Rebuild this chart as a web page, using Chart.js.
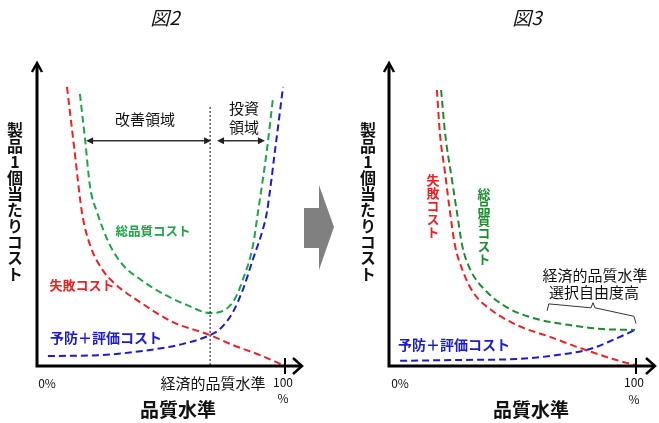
<!DOCTYPE html>
<html lang="ja">
<head>
<meta charset="UTF-8">
<title>品質コスト 図2・図3</title>
<script src="https://cdn.jsdelivr.net/npm/chart.js"></script>
<style>
    body {
        margin: 0;
        background: #fff;
        font-family: "Noto Sans CJK JP", sans-serif;
    }

    #stage {
        position: relative;
        width: 659px;
        height: 423px;
        overflow: hidden;
    }

    canvas {
        position: absolute;
        top: 0;
    }

    .lbl {
        position: absolute;
        transform: translate(-50%, -50%);
        line-height: 1;
        white-space: nowrap;
    }

    .vert {
        writing-mode: vertical-rl;
        text-orientation: upright;
    }
</style>
</head>
<body>
<div id="stage">
    <canvas id="fig2" width="330" height="423" style="left:0"></canvas>
    <canvas id="fig3" width="329" height="423" style="left:330px"></canvas>
    <svg width="659" height="423" style="position:absolute;left:0;top:0">
        <polygon points="304,208 319,208 319,185 334,227 319,270 319,248 304,248" fill="#808080" />
    </svg>
</div>

<script>
    // 図2 のカーブ（x: 品質水準 %, y: コスト相対値）
    const fig2Failure = [[12.1, 92.1], [15.1, 71.3], [18.1, 50.8], [21.4, 39.9], [26.2, 32.0], [31.5, 27.1],
        [41.5, 21.1], [54.8, 14.5], [69.8, 10.2], [79.0, 6.9], [89.9, 3.6], [99.2, 0.3]];
    const fig2Prevention = [[4.4, 3.3], [25.4, 3.6], [45.6, 5.3], [58.9, 7.3], [69.8, 10.2], [73.8, 12.2],
        [79.0, 17.8], [83.1, 25.4], [87.1, 35.3], [91.1, 45.2], [92.7, 50.8], [96.0, 71.3], [99.2, 92.1]];
    const fig2Total = [[17.3, 89.8], [19.4, 74.6], [21.4, 59.1], [24.2, 50.8], [29.4, 39.9], [34.7, 33.3],
        [41.5, 28.7], [49.6, 24.4], [60.5, 20.1], [69.8, 17.5], [79.0, 21.1], [83.1, 28.7], [87.1, 39.9],
        [89.1, 50.8], [92.7, 71.3], [95.2, 88.8]];

    // 図3 のカーブ
    const fig3Failure = [[19.4, 91.1], [20.6, 76.9], [22.7, 63.7], [24.7, 50.8], [26.7, 39.9], [29.6, 32.0],
        [34.0, 24.4], [40.9, 18.8], [51.8, 13.5], [65.2, 9.6], [78.5, 5.6], [90.7, 2.3], [99.6, 0.3]];
    const fig3Total = [[21.1, 91.1], [22.7, 76.9], [25.5, 61.4], [27.5, 50.8], [29.6, 39.9], [32.8, 32.0],
        [39.7, 24.4], [49.0, 18.8], [59.9, 15.5], [73.3, 13.5], [86.6, 12.2], [99.6, 11.9]];
    const fig3Prevention = [[4.5, 1.7], [30.0, 2.0], [51.8, 2.3], [68.0, 3.6], [81.4, 5.6], [90.7, 8.6], [99.6, 11.9]];

    // 経済的品質水準（図2）と領域の範囲
    const economicLevel = 69.8;
    const improveRange = [19.8, 70.2];
    const investRange = [72.6, 91.9];

    const RED = '#ee2124';
    const GREEN = '#1fa447';
    const GREEN_DARK = '#1d8c2e';
    const BLUE = '#1b1bd0';

    // 軸・矢印・注記を描くプラグイン
    const decor = {
        id: 'decor',
        afterDatasetsDraw(chart, args, opts) {
            const { ctx, scales: { x, y } } = chart;
            const x0 = x.getPixelForValue(0), y0 = y.getPixelForValue(0);
            const xEnd = x.right, yEnd = y.top;
            ctx.save();
            ctx.strokeStyle = '#000';
            ctx.lineWidth = 3;
            ctx.beginPath();
            ctx.moveTo(x0, y0 + 1.5);
            ctx.lineTo(x0, yEnd + 1);
            ctx.moveTo(x0 - 1.5, y0);
            ctx.lineTo(xEnd - 1, y0);
            ctx.stroke();
            // 矢印
            ctx.lineWidth = 2.5;
            ctx.beginPath();
            ctx.moveTo(x0 - 5, yEnd + 9);
            ctx.lineTo(x0, yEnd);
            ctx.lineTo(x0 + 5, yEnd + 9);
            ctx.moveTo(xEnd - 9, y0 - 8);
            ctx.lineTo(xEnd, y0);
            ctx.lineTo(xEnd - 9, y0 + 8);
            ctx.stroke();
            // 100% の目盛
            const x100 = x.getPixelForValue(100);
            ctx.lineWidth = 2;
            ctx.beginPath();
            ctx.moveTo(x100, y0 - 8);
            ctx.lineTo(x100, y0 + 8);
            ctx.stroke();
            if (opts.extra) opts.extra(ctx, x, y);
            ctx.restore();
        }
    };

    function doubleArrow(ctx, xa, xb, py) {
        ctx.strokeStyle = '#333';
        ctx.fillStyle = '#222';
        ctx.lineWidth = 1.5;
        ctx.beginPath();
        ctx.moveTo(xa + 4, py);
        ctx.lineTo(xb - 4, py);
        ctx.stroke();
        [[xa, 1], [xb, -1]].forEach(([px, d]) => {
            ctx.beginPath();
            ctx.moveTo(px, py);
            ctx.lineTo(px + 7 * d, py - 3.5);
            ctx.lineTo(px + 7 * d, py + 3.5);
            ctx.closePath();
            ctx.fill();
        });
    }

    function curve(data, color) {
        return {
            data: data,
            borderColor: color,
            borderWidth: 2,
            borderDash: [7, 4],
            pointRadius: 0,
            fill: false,
            tension: 0.4,
            cubicInterpolationMode: 'monotone'
        };
    }

    function makeChart(id, datasets, xMax, padding, extra) {
        return new Chart(document.getElementById(id), {
            type: 'line',
            data: { datasets: datasets },
            options: {
                responsive: false,
                animation: false,
                layout: { padding: padding },
                scales: {
                    x: { type: 'linear', min: 0, max: xMax, display: false },
                    y: { type: 'linear', min: 0, max: 100, display: false }
                },
                plugins: {
                    legend: { display: false },
                    tooltip: { enabled: false },
                    decor: { extra: extra }
                }
            },
            plugins: [decor]
        });
    }

    makeChart('fig2', [curve(fig2Failure, RED), curve(fig2Prevention, BLUE), curve(fig2Total, GREEN)],
        106.85, { left: 37, right: 28, top: 63, bottom: 57 },
        function (ctx, x, y) {
            // 経済的品質水準の点線
            const px = x.getPixelForValue(economicLevel);
            ctx.strokeStyle = '#000';
            ctx.lineWidth = 1;
            ctx.setLineDash([2, 2]);
            ctx.beginPath();
            ctx.moveTo(px, y.getPixelForValue(85.5));
            ctx.lineTo(px, y.getPixelForValue(0));
            ctx.stroke();
            ctx.setLineDash([]);
            const py = y.getPixelForValue(74.3);
            doubleArrow(ctx, x.getPixelForValue(improveRange[0]), x.getPixelForValue(improveRange[1]), py);
            doubleArrow(ctx, x.getPixelForValue(investRange[0]), x.getPixelForValue(investRange[1]), py);
        });

    makeChart('fig3', [curve(fig3Failure, RED), curve(fig3Prevention, BLUE), curve(fig3Total, GREEN_DARK)],
        107.7, { left: 59, right: 4, top: 63, bottom: 57 },
        function (ctx, x, y) {
            // 選択自由度の中括弧
            const brace = [[64.0, 18.2], [64.7, 20.5], [81.8, 19.2], [82.6, 20.9], [83.4, 19.2], [99.2, 16.4], [100, 14.0]];
            ctx.strokeStyle = '#333';
            ctx.lineWidth = 1;
            ctx.beginPath();
            brace.forEach(([bx, by], i) => {
                const px = x.getPixelForValue(bx), py = y.getPixelForValue(by);
                if (i === 0) ctx.moveTo(px, py); else ctx.lineTo(px, py);
            });
            ctx.stroke();
        });

    // テキスト
    const labels = [
        { t: '図2', x: 165, y: 16, s: 19, it: true },
        { t: '図3', x: 527, y: 16, s: 19, it: true },
        { t: '製品1個当たりコスト', x: 15, y: 202, s: 16, b: true, v: true },
        { t: '製品1個当たりコスト', x: 368, y: 202, s: 16, b: true, v: true },
        { t: '品質水準', x: 178, y: 408, s: 19, b: true },
        { t: '品質水準', x: 531, y: 408, s: 19, b: true },
        { t: '0%', x: 47, y: 383, s: 12 },
        { t: '0%', x: 400, y: 383, s: 12 },
        { t: '100', x: 283, y: 382, s: 12 },
        { t: '%', x: 283, y: 398, s: 12 },
        { t: '100', x: 634, y: 382, s: 12 },
        { t: '%', x: 634, y: 399, s: 12 },
        { t: '経済的品質水準', x: 213, y: 382, s: 15 },
        { t: '改善領域', x: 145, y: 118, s: 15 },
        { t: '投資', x: 244, y: 107, s: 15 },
        { t: '領域', x: 244, y: 126, s: 15 },
        { t: '総品質コスト', x: 153, y: 231, s: 12.5, b: true, c: GREEN },
        { t: '失敗コスト', x: 82, y: 284, s: 13, b: true, c: RED },
        { t: '予防＋評価コスト', x: 106, y: 337, s: 14, b: true, c: BLUE },
        { t: '予防＋評価コスト', x: 454, y: 344, s: 14, b: true, c: BLUE },
        { t: '失敗コスト', x: 433, y: 206, s: 13, b: true, c: RED, v: true },
        { t: '総品質コスト', x: 484, y: 227, s: 13, b: true, c: GREEN_DARK, v: true },
        { t: '経済的品質水準', x: 595, y: 274, s: 15 },
        { t: '選択自由度高', x: 594, y: 291, s: 15 }
    ];

    const stage = document.getElementById('stage');
    labels.forEach(l => {
        const d = document.createElement('div');
        d.className = 'lbl' + (l.v ? ' vert' : '');
        d.textContent = l.t;
        d.style.left = l.x + 'px';
        d.style.top = l.y + 'px';
        d.style.fontSize = l.s + 'px';
        d.style.fontWeight = l.b ? 'bold' : 'normal';
        d.style.fontStyle = l.it ? 'italic' : 'normal';
        d.style.color = l.c || '#111';
        stage.appendChild(d);
    });
</script>
</body>
</html>
